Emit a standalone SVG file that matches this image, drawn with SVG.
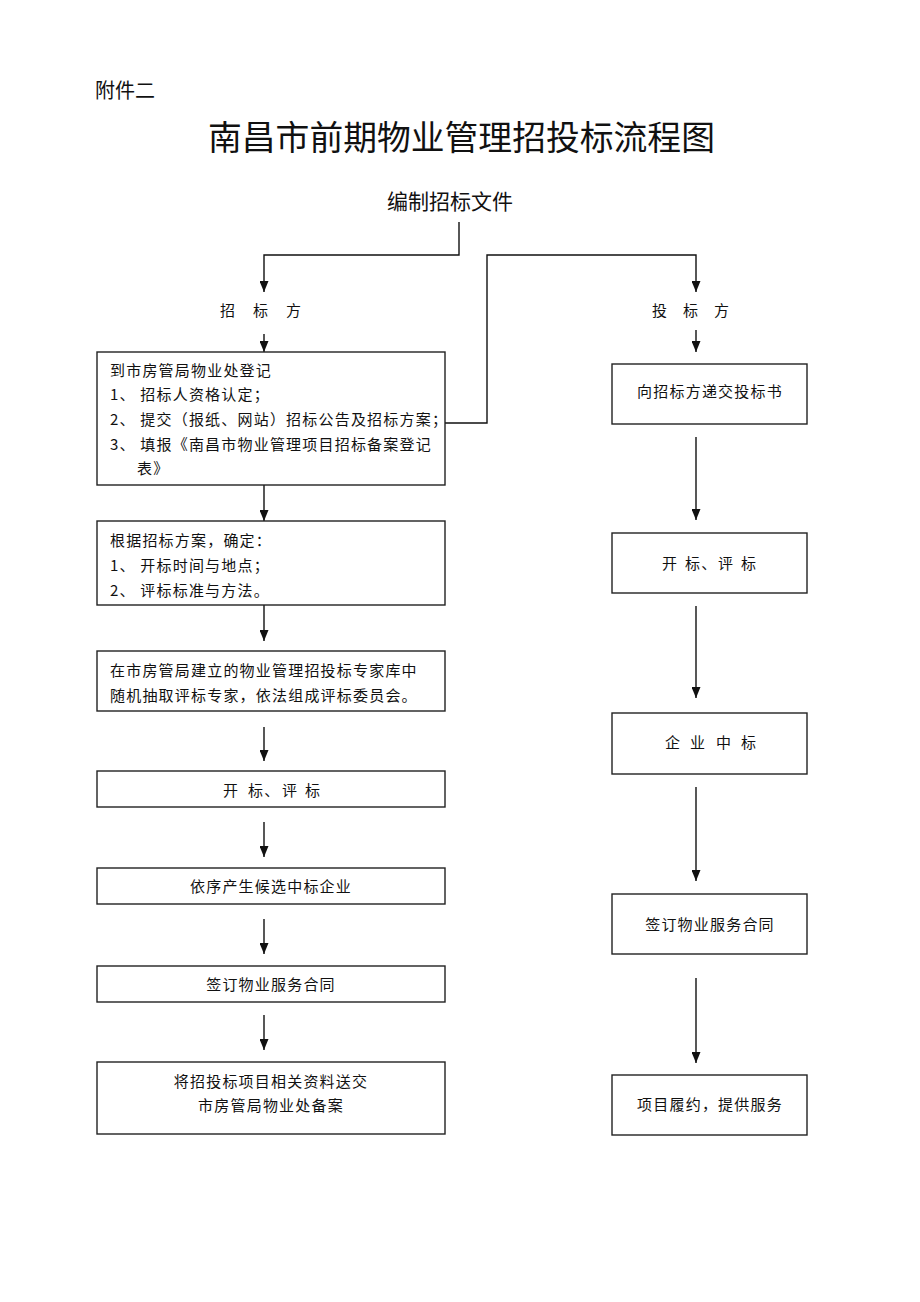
<svg xmlns="http://www.w3.org/2000/svg" width="920" height="1302" viewBox="0 0 920 1302">
<style>
text{font-family:"Noto Sans CJK SC","Noto Sans",sans-serif;fill:#111;}
.t{font-size:15px;letter-spacing:1.2px;}
.c{text-anchor:middle;}
.box{fill:#fff;stroke:#222;stroke-width:1.4;}
.ln{fill:none;stroke:#111;stroke-width:1.4;}
.ar{fill:none;stroke:#111;stroke-width:1.4;marker-end:url(#ah);}
</style>
<defs>
<marker id="ah" viewBox="0 0 11 9" refX="11" refY="4.5" markerWidth="11" markerHeight="9" markerUnits="userSpaceOnUse" orient="auto">
<path d="M0,0 L11,4.5 L0,9 z" fill="#111"/>
</marker>
</defs>
<rect width="920" height="1302" fill="#fff"/>
<g id="header">
<text x="95" y="98" font-size="20">附件二</text>
<text x="208" y="150" font-size="33.8">南昌市前期物业管理招投标流程图</text>
<text id="start" x="387" y="209" font-size="21">编制招标文件</text>
</g>
<g id="connectors">
<polyline class="ar" points="459,222 459,255 264,255 264,292"/>
<polyline class="ar" points="445,423 487,423 487,255 696,255 696,292"/>
<line class="ar" x1="264" y1="334" x2="264" y2="352"/>
<line class="ar" x1="264" y1="485" x2="264" y2="521"/>
<line class="ar" x1="264" y1="605" x2="264" y2="641"/>
<line class="ar" x1="264" y1="727" x2="264" y2="761"/>
<line class="ar" x1="264" y1="822" x2="264" y2="857"/>
<line class="ar" x1="264" y1="919" x2="264" y2="954"/>
<line class="ar" x1="264" y1="1015" x2="264" y2="1050"/>
<line class="ar" x1="696" y1="330" x2="696" y2="352"/>
<line class="ar" x1="696" y1="437" x2="696" y2="520"/>
<line class="ar" x1="696" y1="606" x2="696" y2="698"/>
<line class="ar" x1="696" y1="787" x2="696" y2="881"/>
<line class="ar" x1="696" y1="978" x2="696" y2="1063"/>
</g>
<g id="label-zhaobiaofang">
<text class="t" y="316"><tspan x="220">招</tspan><tspan x="253">标</tspan><tspan x="286">方</tspan></text>
</g>
<g id="label-toubiaofang">
<text class="t" y="316"><tspan x="652">投</tspan><tspan x="683">标</tspan><tspan x="714">方</tspan></text>
</g>
<g id="L1">
<rect class="box" x="97" y="352" width="348" height="133"/>
<text class="t" x="110" y="376">到市房管局物业处登记</text>
<text class="t" x="110" y="400">1、 招标人资格认定；</text>
<text class="t" x="110" y="425">2、 提交（报纸、网站）招标公告及招标方案；</text>
<text class="t" x="110" y="450">3、 填报《南昌市物业管理项目招标备案登记</text>
<text class="t" x="137" y="474">表》</text>
</g>
<g id="L2">
<rect class="box" x="97" y="521" width="348" height="84"/>
<text class="t" x="110" y="546">根据招标方案，确定：</text>
<text class="t" x="110" y="571">1、 开标时间与地点；</text>
<text class="t" x="110" y="596">2、 评标标准与方法。</text>
</g>
<g id="L3">
<rect class="box" x="97" y="651" width="348" height="60"/>
<text class="t" x="110" y="676">在市房管局建立的物业管理招投标专家库中</text>
<text class="t" x="110" y="701">随机抽取评标专家，依法组成评标委员会。</text>
</g>
<g id="L4">
<rect class="box" x="97" y="771" width="348" height="36"/>
<text class="t" y="796"><tspan x="223">开</tspan><tspan x="248">标、</tspan><tspan x="282">评</tspan><tspan x="305">标</tspan></text>
</g>
<g id="L5">
<rect class="box" x="97" y="868" width="348" height="36"/>
<text class="t c" x="271" y="892">依序产生候选中标企业</text>
</g>
<g id="L6">
<rect class="box" x="97" y="966" width="348" height="36"/>
<text class="t c" x="271" y="990">签订物业服务合同</text>
</g>
<g id="L7">
<rect class="box" x="97" y="1062" width="348" height="72"/>
<text class="t c" x="271" y="1087">将招投标项目相关资料送交</text>
<text class="t c" x="271" y="1111">市房管局物业处备案</text>
</g>
<g id="R1">
<rect class="box" x="612" y="364" width="195" height="60"/>
<text class="t c" x="710" y="397">向招标方递交投标书</text>
</g>
<g id="R2">
<rect class="box" x="612" y="533" width="195" height="60"/>
<text class="t" y="569"><tspan x="662">开</tspan><tspan x="685">标、</tspan><tspan x="718">评</tspan><tspan x="741">标</tspan></text>
</g>
<g id="R3">
<rect class="box" x="612" y="713" width="195" height="61"/>
<text class="t" y="748"><tspan x="665">企</tspan><tspan x="690">业</tspan><tspan x="716">中</tspan><tspan x="741">标</tspan></text>
</g>
<g id="R4">
<rect class="box" x="612" y="894" width="195" height="60"/>
<text class="t c" x="710" y="930">签订物业服务合同</text>
</g>
<g id="R5">
<rect class="box" x="612" y="1075" width="195" height="60"/>
<text class="t c" x="710" y="1110">项目履约，提供服务</text>
</g>
</svg>
